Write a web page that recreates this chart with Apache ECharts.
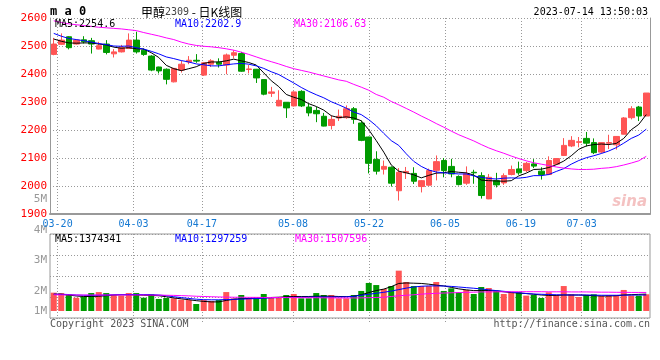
<!DOCTYPE html>
<html><head><meta charset="utf-8">
<script src="https://cdn.jsdelivr.net/npm/echarts@6/dist/echarts.min.js"></script>
<style>html,body{margin:0;padding:0;background:#fff}#c{width:660px;height:360px}</style>
</head><body><div id="c"></div>
<script>
const dates = ['03-17','03-20','03-21','03-22','03-23','03-24','03-27','03-28','03-29','03-30','03-31',
'04-03','04-04','04-06','04-07','04-10','04-11','04-12','04-13','04-14','04-17','04-18','04-19','04-20','04-21',
'04-24','04-25','04-26','04-27','04-28','05-04','05-05','05-08','05-09','05-10','05-11','05-12',
'05-15','05-16','05-17','05-18','05-19','05-22','05-23','05-24','05-25','05-26','05-29','05-30','05-31','06-01','06-02',
'06-05','06-06','06-07','06-08','06-09','06-12','06-13','06-14','06-15','06-16','06-19','06-20','06-21',
'06-26','06-27','06-28','06-29','06-30','07-03','07-04','07-05','07-06','07-07','07-10','07-11','07-12','07-13','07-14'];
const xTickLabels = ['03-20','04-03','04-17','05-08','05-22','06-05','06-19','07-03'];
const priceTicks = [1900,2000,2100,2200,2300,2400,2500,2600];
const volTickLabels = ['1M','2M','3M','4M','5M'];

const opens = [2470,2506,2533,2507,2522,2519,2489,2507,2472,2479,2491,2521,2485,2464,2425,2417,2372,2414,2443,2449,
2396,2435,2442,2432,2467,2473,2416,2417,2380,2331,2286,2299,2286,2338,2282,2270,2249,2216,2243,2244,
2276,2225,2175,2095,2060,2067,1983,2047,2045,1998,2003,2056,2091,2070,2034,2010,2049,2037,1954,2019,
2011,2041,2061,2055,2079,2053,2041,2078,2109,2143,2156,2170,2155,2121,2153,2147,2185,2244,2282,2250];
const closes = [2507,2521,2494,2521,2515,2507,2501,2477,2479,2494,2521,2479,2470,2414,2411,2381,2420,2435,2449,2446,
2440,2447,2435,2468,2476,2410,2418,2386,2328,2336,2306,2279,2336,2286,2261,2258,2214,2238,2249,2276,
2238,2163,2081,2053,2070,2010,2049,2052,2017,2019,2055,2087,2055,2043,2005,2044,2047,1966,2031,2004,
2037,2059,2047,2081,2071,2041,2091,2098,2145,2163,2158,2153,2119,2155,2155,2177,2243,2276,2250,2332];
const lows = [2467,2504,2488,2505,2509,2473,2488,2470,2459,2477,2489,2473,2465,2410,2402,2363,2370,2405,2435,2440,
2393,2425,2423,2399,2456,2408,2402,2368,2324,2318,2285,2243,2284,2282,2249,2228,2213,2202,2232,2240,
2222,2160,2045,2041,2041,1998,1948,2025,2007,1977,2001,2020,2031,2031,2002,2004,2008,1955,1953,1995,
2004,2038,2040,2050,2064,2023,2039,2076,2107,2139,2138,2141,2114,2117,2132,2130,2184,2238,2232,2250];
const highs = [2529,2545,2535,2523,2535,2529,2515,2521,2489,2504,2545,2551,2491,2467,2426,2420,2422,2447,2464,2471,
2443,2453,2456,2473,2485,2479,2432,2418,2381,2354,2342,2300,2338,2342,2294,2282,2261,2252,2273,2288,
2282,2234,2176,2124,2091,2070,2064,2068,2067,2021,2062,2109,2100,2097,2038,2070,2058,2049,2043,2047,
2045,2073,2087,2086,2096,2067,2106,2100,2171,2178,2175,2193,2170,2157,2183,2178,2246,2285,2286,2332];

const ma5 = [2525,2517,2511,2510,2511,2511,2507,2504,2496,2492,2494,2490,2489,2476,2459,2431,2419,2412,2419,2426,
2438,2443,2443,2447,2453,2447,2441,2432,2404,2376,2355,2327,2317,2309,2294,2284,2271,2251,2244,2247,
2243,2233,2201,2162,2121,2075,2053,2047,2040,2029,2038,2046,2047,2052,2049,2047,2039,2021,2019,2018,
2017,2019,2036,2046,2059,2060,2066,2076,2089,2108,2131,2143,2148,2150,2148,2152,2170,2201,2220,2255];
const ma10 = [2545,2535,2527,2523,2519,2514,2509,2505,2500,2499,2500,2494,2489,2481,2472,2461,2455,2448,2443,2436,
2433,2429,2429,2433,2436,2438,2435,2429,2420,2408,2398,2383,2368,2352,2338,2326,2315,2301,2290,2278,
2264,2255,2237,2215,2188,2162,2145,2115,2088,2070,2057,2050,2047,2045,2043,2043,2036,2031,2027,2025,
2028,2029,2028,2031,2037,2037,2041,2052,2062,2078,2091,2101,2108,2116,2125,2137,2153,2170,2182,2203];
const ma30 = [2590,2584,2579,2576,2573,2570,2567,2565,2563,2561,2558,2555,2548,2542,2536,2529,2523,2514,2507,2502,
2499,2497,2494,2490,2485,2478,2470,2461,2452,2444,2436,2427,2419,2413,2407,2400,2393,2386,2379,2374,
2363,2353,2342,2327,2317,2302,2290,2277,2264,2250,2237,2223,2210,2196,2183,2172,2161,2148,2136,2126,
2117,2107,2098,2090,2083,2078,2073,2068,2064,2061,2059,2059,2060,2063,2065,2069,2075,2082,2090,2106];

const volumes = [1490000,1460000,1360000,1080000,1160000,1460000,1540000,1460000,1300000,1250000,
1460000,1460000,1080000,1360000,980000,1060000,1030000,920000,890000,570000,
890000,810000,890000,1540000,1030000,1300000,1030000,1030000,1380000,1110000,
1110000,1300000,1380000,1030000,1030000,1460000,1300000,1300000,1030000,1030000,
1300000,1630000,2280000,2110000,1790000,2030000,3280000,2360000,2030000,2030000,
2030000,2360000,1630000,1840000,1520000,1710000,1380000,1950000,1870000,1630000,
1380000,1520000,1520000,1250000,1300000,1060000,1520000,1300000,2030000,1360000,
1140000,1300000,1360000,1220000,1300000,1300000,1710000,1250000,1250000,1360000];
const volMa5 = [1360000,1360000,1300000,1220000,1180000,1180000,1200000,1240000,1300000,1320000,
1320000,1310000,1280000,1270000,1240000,1160000,1060000,990000,920000,840000,
780000,740000,740000,860000,950000,1000000,1020000,1050000,1080000,1100000,
1120000,1160000,1180000,1180000,1180000,1200000,1210000,1200000,1180000,1170000,
1200000,1320000,1500000,1660000,1780000,1980000,2240000,2280000,2260000,2240000,
2180000,2100000,2040000,1920000,1800000,1720000,1660000,1660000,1660000,1640000,
1560000,1500000,1460000,1420000,1360000,1300000,1270000,1270000,1300000,1300000,
1300000,1280000,1240000,1220000,1220000,1240000,1300000,1330000,1350000,1374341];
const volMa10 = [1370000,1360000,1340000,1300000,1280000,1270000,1280000,1300000,1320000,1330000,
1340000,1340000,1340000,1330000,1300000,1240000,1160000,1090000,1020000,960000,
920000,910000,910000,930000,950000,970000,990000,1010000,1040000,1070000,
1090000,1100000,1110000,1120000,1130000,1140000,1140000,1140000,1140000,1150000,
1190000,1280000,1360000,1440000,1520000,1620000,1740000,1860000,1950000,2010000,
2040000,2040000,2030000,2000000,1950000,1900000,1850000,1790000,1720000,1660000,
1600000,1540000,1480000,1420000,1380000,1360000,1340000,1320000,1310000,1300000,
1300000,1300000,1290000,1280000,1280000,1280000,1290000,1290000,1300000,1297259];
const volMa30 = [1320000,1310000,1310000,1300000,1300000,1300000,1300000,1300000,1300000,1300000,
1300000,1300000,1300000,1290000,1290000,1280000,1270000,1250000,1230000,1200000,
1180000,1160000,1140000,1130000,1120000,1120000,1110000,1110000,1100000,1100000,
1100000,1090000,1090000,1080000,1080000,1080000,1070000,1070000,1060000,1060000,
1060000,1070000,1080000,1100000,1120000,1180000,1240000,1280000,1320000,1370000,
1410000,1440000,1460000,1480000,1500000,1520000,1530000,1550000,1550000,1560000,
1560000,1560000,1570000,1570000,1570000,1570000,1560000,1560000,1560000,1550000,
1550000,1550000,1540000,1530000,1530000,1520000,1520000,1510000,1510000,1507596];

const maLegend = ['MA5:2254.6','MA10:2202.9','MA30:2106.63'];
const volLegend = ['MA5:1374341','MA10:1297259','MA30:1507596'];
const titleParts = ['甲醇','2309',' - 日K线图'];
const symbolNote = 'm a 0';
const stamp = '2023-07-14 13:50:03';
const footLeft = 'Copyright 2023 SINA.COM';
const footRight = 'http://finance.sina.com.cn';

const RED = '#ff5555', GREEN = '#009a00';
const MONO = 'DejaVu Sans Mono';
const candleData = opens.map((o, i) => [o, closes[i], lows[i], highs[i]]);
const tickShow = (i, v) => xTickLabels.indexOf(v) >= 0;
const dotted = {type: [1, 2], color: '#999', width: 1};

function line(name, data, color, xi, yi) {
  return {name, type: 'line', data, xAxisIndex: xi, yAxisIndex: yi, symbol: 'none',
    lineStyle: {color, width: 1}, silent: true, z: 5};
}

const option = {
  animation: false,
  backgroundColor: '#fff',
  grid: [
    {left: 50, top: 18, width: 600, height: 196},
    {left: 50, top: 234, width: 600, height: 84, show: true, borderColor: '#999', borderWidth: 1},
    {left: 50, top: 199.5, width: 600, height: 122}
  ],
  xAxis: [
    {type: 'category', gridIndex: 0, data: dates, boundaryGap: true, show: false},
    {type: 'category', gridIndex: 0, data: dates, boundaryGap: false, position: 'bottom',
      axisLine: {lineStyle: {color: '#999', width: 2}}, axisTick: {show: false},
      axisLabel: {interval: tickShow, color: '#1478d2', fontFamily: MONO, fontSize: 10, margin: 5},
      splitLine: {show: true, interval: tickShow, lineStyle: dotted}},
    {type: 'category', gridIndex: 1, data: dates, boundaryGap: true, show: false},
    {type: 'category', gridIndex: 1, data: dates, boundaryGap: false, position: 'bottom',
      axisLine: {show: false}, axisLabel: {show: false},
      axisTick: {show: true, interval: tickShow, inside: false, length: 5, lineStyle: dotted},
      splitLine: {show: true, interval: tickShow, lineStyle: dotted}},
    {type: 'value', gridIndex: 2, min: 0, max: 1, show: false}
  ],
  yAxis: [
    {type: 'value', gridIndex: 0, min: priceTicks[0], max: priceTicks[priceTicks.length - 1], interval: 100,
      position: 'left',
      axisLine: {show: true, lineStyle: {color: '#999', width: 1}}, axisTick: {show: false},
      axisLabel: {color: '#ff0000', fontFamily: MONO, fontSize: 11, margin: 3, padding: [0, 0, 3, 0],
        formatter: v => String(priceTicks[priceTicks.indexOf(v)])},
      splitLine: {show: true, lineStyle: dotted}},
    {type: 'value', gridIndex: 0, min: 1900, max: 2600, position: 'right',
      axisLine: {show: true, lineStyle: {color: '#999', width: 1}}, axisTick: {show: false},
      axisLabel: {show: false}, splitLine: {show: false}},
    {type: 'value', gridIndex: 1, min: -569000, max: 6260000, show: false},
    {type: 'value', gridIndex: 1, min: 0, max: 4, interval: 1, position: 'right',
      axisLine: {show: false}, axisTick: {show: false}, axisLabel: {show: false},
      splitLine: {show: true, lineStyle: dotted}},
    {type: 'value', gridIndex: 2, min: 1000000, max: 5000000, interval: 1000000, position: 'left',
      axisLine: {show: false}, axisTick: {show: false}, splitLine: {show: false},
      axisLabel: {color: '#999', fontFamily: MONO, fontSize: 11, margin: 3,
        formatter: v => {
          const lbl = volTickLabels[Math.round(v / 1000000) - 1];
          return v === 1000000 ? '{low|' + lbl + '}' : lbl;
        },
        rich: {low: {color: '#999', fontFamily: MONO, fontSize: 11, padding: [0, 0, 20, 0]}}}}
  ],
  series: [
    {name: 'K', type: 'candlestick', data: candleData, xAxisIndex: 0, yAxisIndex: 0, barWidth: 6,
      silent: true,
      itemStyle: {color: RED, color0: GREEN, borderColor: RED, borderColor0: GREEN, borderWidth: 1}},
    line('MA5', ma5, '#000000', 0, 0),
    line('MA10', ma10, '#0000ff', 0, 0),
    line('MA30', ma30, '#ff00ff', 0, 0),
    {name: 'VOL', type: 'bar', data: volumes, xAxisIndex: 2, yAxisIndex: 2, barWidth: 6, silent: true,
      itemStyle: {color: p => closes[p.dataIndex] >= opens[p.dataIndex] ? RED : GREEN}},
    line('VMA5', volMa5, '#000000', 2, 2),
    line('VMA10', volMa10, '#0000ff', 2, 2),
    line('VMA30', volMa30, '#ff00ff', 2, 2)
  ],
  graphic: [
    {type: 'text', x: 50, y: 12, z: 100, style: {text: symbolNote, fill: '#000', font: 'bold 12px ' + MONO, verticalAlign: 'middle'}},
    {type: 'text', x: 141, y: 12, z: 100, style: {
      text: '{a|' + titleParts[0] + '}{b|' + titleParts[1] + '}{a|' + titleParts[2] + '}',
      verticalAlign: 'middle',
      rich: {a: {fill: '#000', fontFamily: 'Noto Sans CJK SC', fontSize: 12},
             b: {fill: '#444', fontFamily: MONO, fontSize: 10}}}},
    {type: 'text', x: 648, y: 12, z: 100, style: {text: stamp, fill: '#000', font: '10px ' + MONO, align: 'right', verticalAlign: 'middle'}},
    {type: 'text', x: 55, y: 24, z: 100, style: {text: maLegend[0], fill: '#000', font: '10px ' + MONO, verticalAlign: 'middle'}},
    {type: 'text', x: 175, y: 24, z: 100, style: {text: maLegend[1], fill: '#0000ff', font: '10px ' + MONO, verticalAlign: 'middle'}},
    {type: 'text', x: 294, y: 24, z: 100, style: {text: maLegend[2], fill: '#ff00ff', font: '10px ' + MONO, verticalAlign: 'middle'}},
    {type: 'text', x: 55, y: 239, z: 100, style: {text: volLegend[0], fill: '#000', font: '10px ' + MONO, verticalAlign: 'middle'}},
    {type: 'text', x: 175, y: 239, z: 100, style: {text: volLegend[1], fill: '#0000ff', font: '10px ' + MONO, verticalAlign: 'middle'}},
    {type: 'text', x: 295, y: 239, z: 100, style: {text: volLegend[2], fill: '#ff00ff', font: '10px ' + MONO, verticalAlign: 'middle'}},
    {type: 'text', x: 50, y: 324, z: 100, style: {text: footLeft, fill: '#555', font: '10px ' + MONO, verticalAlign: 'middle'}},
    {type: 'text', x: 650, y: 324, z: 100, style: {text: footRight, fill: '#555', font: '10px ' + MONO, align: 'right', verticalAlign: 'middle'}},
    {type: 'text', x: 647, y: 202, z: 1, style: {text: 'sina', fill: 'rgba(230,120,120,0.45)', font: 'italic bold 15px DejaVu Sans', align: 'right', verticalAlign: 'middle'}}
  ]
};

const chart = echarts.init(document.getElementById('c'), null, {renderer: 'canvas'});
chart.setOption(option);
</script></body></html>
